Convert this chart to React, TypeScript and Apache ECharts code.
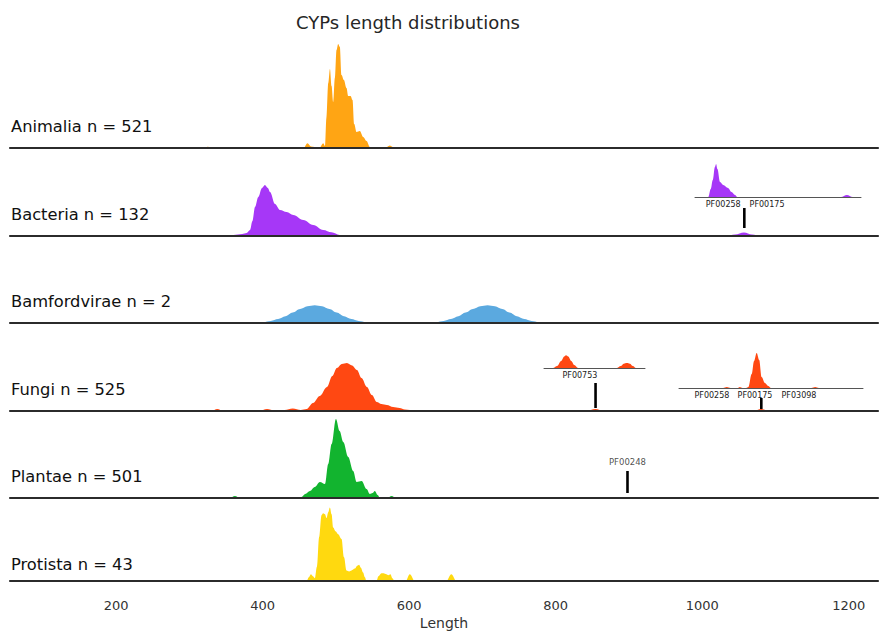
import React, { useEffect, useRef } from "react";
import * as echarts from "echarts";

// ---------- data ----------
const rowLabels = [
  "Animalia n = 521",
  "Bacteria n = 132",
  "Bamfordvirae n = 2",
  "Fungi n = 525",
  "Plantae n = 501",
  "Protista n = 43",
];
const rowColors = ["#ffa514", "#a637f7", "#5ba9df", "#ff4812", "#12b42f", "#ffd90f"];

const xTickValues = [200, 400, 600, 800, 1000, 1200];

const animalia = [
  [55, 0], [318, 0], [325, 1.2], [332, 0], [372, 0], [378, 0.8], [384, 0], [408, 0], [414, 0.8], [420, 0],
  [441, 0], [447, 1], [453, 0], [456, 0], [461, 4.7], [466, 1.5], [471, 1], [478, 0.5], [482.6, 4.7], [485, 2],
  [487, 30], [489.5, 65], [491.8, 79], [494, 62], [496.3, 46], [498.5, 70], [500.8, 98], [503, 104], [505.3, 101],
  [507.6, 73], [510.8, 68], [514.4, 60], [516.7, 52], [520, 52], [522.6, 48], [524.9, 24], [528.1, 16],
  [532.6, 17], [537.2, 11], [541.8, 7], [546.3, 1], [550, 0], [567, 0], [573.5, 2.5], [580, 0], [1240, 0],
];
const bacteria = [
  [55, 0], [340, 0], [360, 1], [372, 2], [378, 3], [382.7, 6], [386, 15], [389.5, 29], [394, 39], [399, 48],
  [403, 51], [407, 48], [410, 44], [416.8, 32], [423.6, 26], [432.7, 24], [441.7, 21], [455.4, 16], [469, 11],
  [482.6, 6], [494, 3.7], [505, 1], [512, 0], [1032, 0], [1045, 1.5], [1057, 3.5], [1068, 1.5], [1080, 0], [1240, 0],
];
const bamfordvirae = [
  [55, 0], [376, 0], [391, 0.4], [401, 1], [411, 2.1], [421, 4], [431, 6.8], [441, 10.4], [451, 13.9], [461, 16.7],
  [471, 17.7], [481, 16.7], [491, 13.9], [501, 10.4], [511, 6.8], [521, 4], [531, 2.1], [541, 1], [551, 0.4],
  [566, 0], [612, 0], [627, 0.4], [637, 1], [647, 2.1], [657, 4], [667, 6.8], [677, 10.4], [687, 13.9],
  [697, 16.7], [707, 17.7], [717, 16.7], [727, 13.9], [737, 10.4], [747, 6.8], [757, 4], [767, 2.1], [777, 1],
  [787, 0.4], [802, 0], [1240, 0],
];
const fungi = [
  [55, 0], [330, 0], [338, 2], [346, 0], [395, 0], [406, 2], [416, 0.5], [430, 1], [441, 2.5], [452, 1],
  [460, 2], [468.6, 8], [478, 15], [487.7, 24], [495, 35], [501.3, 43], [508, 47], [515, 48], [522, 45.5],
  [528.6, 41], [535, 33], [542.2, 24], [549, 16], [555.8, 9], [562, 7], [569.5, 6], [578, 4], [587, 3],
  [594, 1.5], [601, 1], [610, 0], [842, 0], [854, 2], [866, 0], [1070, 0], [1080.7, 2], [1091, 0], [1240, 0],
];
const plantae = [
  [55, 0], [355, 0], [362, 2], [369, 0], [448, 0], [453, 1], [458, 4], [464.5, 7], [471, 11], [478.1, 16],
  [485, 14], [489.5, 34], [494.1, 54], [500, 79], [505, 67], [510, 56], [516.7, 41], [523.5, 27], [528.2, 16],
  [535, 17], [541.8, 9], [546.3, 4], [550, 5], [553.1, 7], [557, 3], [560, 0], [570, 0], [576, 2], [582, 0],
  [1240, 0],
];
const protista = [
  [55, 0], [460, 0], [463, 4], [465.8, 7], [468.5, 5], [471.2, 3], [474, 15], [477.1, 46], [480.3, 69],
  [482.5, 71], [485, 70], [487.2, 66], [489.5, 72], [491.7, 77], [494, 70], [496.2, 56], [499.5, 52], [503, 49],
  [507.6, 44], [511, 25], [514.4, 11], [518, 10], [521.2, 11], [525.8, 13], [529, 16], [531.6, 17], [534, 14],
  [537, 9], [539.5, 4], [541.6, 0], [555.3, 0], [558, 5], [562.1, 8], [565, 8], [568.9, 7], [571.5, 6],
  [574.4, 7], [577, 3], [580.2, 0], [595.3, 0], [600.8, 7], [607.6, 0], [650.8, 0], [657.5, 7], [664.4, 0],
  [1240, 0],
];
const rowData = [animalia, bacteria, bamfordvirae, fungi, plantae, protista];

// inset densities (inset axis 0..100)
const bacteriaInset = [
  [0, 0], [8, 0], [9.5, 8], [10.7, 17], [12, 30], [12.7, 33], [13.5, 28], [15.1, 15], [17, 12], [19.9, 9],
  [22, 5], [24.1, 2], [25.5, 0], [88, 0], [91.5, 2], [95, 0], [100, 0],
];
const bacteriaInsetDomains = ["PF00258", "PF00175"];
const bacteriaInsetDomainPos = [17, 43.4];

const fungiInsetA = [
  [0, 0], [8.9, 0], [13, 2], [17, 7], [20, 11.5], [21.8, 12.7], [24, 11.5], [27, 7], [30, 3], [33.7, 0],
  [72, 0], [76, 2], [79, 4.3], [82, 5], [85, 4.3], [88, 2], [91, 0], [100, 0],
];
const fungiInsetADomains = ["PF00753"];
const fungiInsetADomainPos = [35.6];

const fungiInsetB = [
  [0, 0], [24, 0], [26, 1], [28, 0], [32, 0], [33, 1], [34.5, 0], [36.5, 0], [37.7, 1], [39.5, 14],
  [40.8, 27], [42.2, 35], [43.6, 28], [44.9, 11], [46.7, 5], [48.5, 2], [50, 0], [72, 0], [74, 1], [76, 0],
  [100, 0],
];
const fungiInsetBDomains = ["PF00258", "PF00175", "PF03098"];
const fungiInsetBDomainPos = [17.9, 41.3, 65.2];

// domain markers in main rows: [rowIndex, length, bottom, top]
const markerRow = [1, 3, 3, 4];
const markerX = [1057.5, 854.4, 1080.7, 898];
const markerBottom = [8, 3, 2, 5];
const markerTop = [28, 28, 13, 27];
const plantaeMarkerLabel = "PF00248";

// ---------- layout ----------
const W = 881;
const H = 631;
const baselines = [148, 236, 323, 411, 498, 586];
const ROW_H = 110;
const FONT = '"DejaVu Sans", "Liberation Sans", sans-serif';

export default function App() {
  const ref = useRef<HTMLDivElement>(null);

  useEffect(() => {
    if (!ref.current) return;
    const chart = echarts.init(ref.current, undefined, { renderer: "svg" });

    const grid: any[] = [];
    const xAxis: any[] = [];
    const yAxis: any[] = [];
    const series: any[] = [];

    baselines.forEach((b, i) => {
      grid.push({ left: 10, right: 3, top: b - ROW_H, height: ROW_H });
      const last = i === baselines.length - 1;
      xAxis.push({
        gridIndex: i,
        type: "value",
        min: 55,
        max: 1240,
        z: 10,
        axisLine: { show: true, lineStyle: { color: "#2b2b2b", width: 2.2 } },
        axisTick: { show: false },
        splitLine: { show: false },
        axisLabel: last
          ? {
              show: true,
              customValues: xTickValues,
              formatter: (v: number) => String(v),
              color: "#333",
              fontSize: 13,
              margin: 18,
              fontFamily: FONT,
            }
          : { show: false },
        name: last ? "Length" : "",
        nameLocation: "middle",
        nameGap: 35,
        nameTextStyle: { color: "#333", fontSize: 14, fontFamily: FONT },
      });
      yAxis.push({ gridIndex: i, type: "value", min: 0, max: ROW_H, show: false });
      series.push({
        type: "line",
        xAxisIndex: i,
        yAxisIndex: i,
        data: rowData[i],
        smooth: 0.35,
        smoothMonotone: "x",
        showSymbol: false,
        symbol: "none",
        lineStyle: { width: 0 },
        areaStyle: { color: rowColors[i], opacity: 1 },
        z: 2,
      });
    });

    const insets = [
      { left: 695, top: 162, width: 166, height: 35, data: bacteriaInset, color: rowColors[1], names: bacteriaInsetDomains, pos: bacteriaInsetDomainPos },
      { left: 544, top: 353, width: 101, height: 15, data: fungiInsetA, color: rowColors[3], names: fungiInsetADomains, pos: fungiInsetADomainPos },
      { left: 679, top: 348, width: 184, height: 40, data: fungiInsetB, color: rowColors[3], names: fungiInsetBDomains, pos: fungiInsetBDomainPos },
    ];
    insets.forEach((ins) => {
      const gi = grid.length;
      grid.push({ left: ins.left, top: ins.top, width: ins.width, height: ins.height });
      xAxis.push({
        gridIndex: gi,
        type: "value",
        min: 0,
        max: 100,
        z: 10,
        axisLine: { show: true, lineStyle: { color: "#555", width: 1 } },
        axisTick: { show: false },
        splitLine: { show: false },
        axisLabel: {
          show: true,
          customValues: ins.pos,
          formatter: (v: number) => {
            const k = ins.pos.indexOf(v);
            return k >= 0 ? ins.names[k] : "";
          },
          fontSize: 8,
          color: "#222",
          margin: 3,
          fontFamily: FONT,
        },
      });
      yAxis.push({ gridIndex: gi, type: "value", min: 0, max: ins.height, show: false });
      series.push({
        type: "line",
        xAxisIndex: gi,
        yAxisIndex: gi,
        data: ins.data,
        smooth: 0.35,
        smoothMonotone: "x",
        showSymbol: false,
        symbol: "none",
        lineStyle: { width: 0 },
        areaStyle: { color: ins.color, opacity: 1 },
        z: 2,
      });
    });

    markerX.forEach((x, k) => {
      const r = markerRow[k];
      series.push({
        type: "line",
        xAxisIndex: r,
        yAxisIndex: r,
        data: [
          [x, markerBottom[k]],
          [x, markerTop[k]],
        ],
        showSymbol: false,
        symbol: "none",
        lineStyle: { color: "#000", width: 2.6 },
        z: 5,
      });
    });
    // label above the Plantae marker
    series.push({
      type: "scatter",
      xAxisIndex: 4,
      yAxisIndex: 4,
      symbolSize: 1,
      itemStyle: { color: "rgba(0,0,0,0)" },
      data: [
        {
          value: [markerX[3], markerTop[3]],
          label: {
            show: true,
            formatter: plantaeMarkerLabel,
            position: "top",
            distance: 4,
            fontSize: 8.5,
            color: "#222",
            fontFamily: FONT,
          },
        },
      ],
      z: 6,
    });

    const graphic: any[] = [
      {
        type: "text",
        x: 408,
        y: 22,
        style: {
          text: "CYPs length distributions",
          fill: "#262626",
          font: `18px ${FONT}`,
          textAlign: "center",
          textVerticalAlign: "middle",
        },
      },
      ...rowLabels.map((t, i) => ({
        type: "text",
        x: 11,
        y: baselines[i] - 22,
        style: {
          text: t,
          fill: "#111",
          font: `16.3px ${FONT}`,
          textAlign: "left",
          textVerticalAlign: "middle",
        },
      })),
    ];

    chart.setOption({
      animation: false,
      backgroundColor: "#ffffff",
      textStyle: { fontFamily: FONT },
      grid,
      xAxis,
      yAxis,
      series,
      graphic,
    });

    return () => chart.dispose();
  }, []);

  return (
    <div
      ref={ref}
      style={{ position: "fixed", left: 0, top: 0, width: W, height: H }}
    />
  );
}
